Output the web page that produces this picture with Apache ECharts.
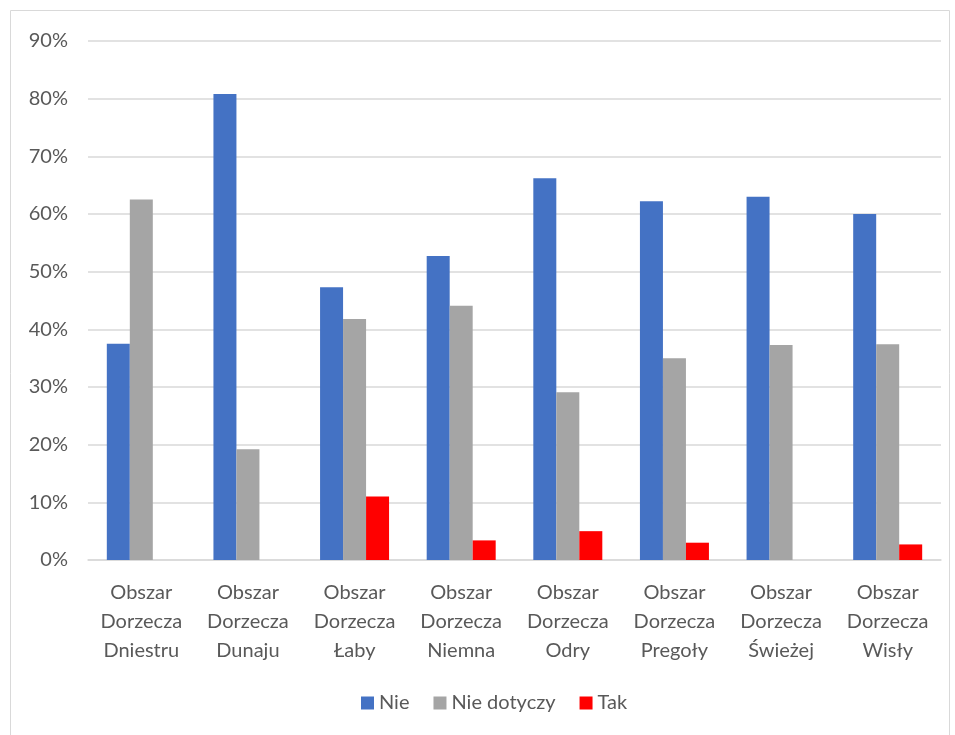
<!DOCTYPE html>
<html>
<head>
<meta charset="utf-8">
<script src="https://cdn.jsdelivr.net/npm/echarts@6/dist/echarts.min.js"></script>
<style>
  html, body { margin: 0; padding: 0; background: #fff; }
  #chart { width: 955px; height: 735px; }
</style>
</head>
<body>
<div id="chart"></div>
<script>
var categories = [
  "Obszar\nDorzecza\nDniestru",
  "Obszar\nDorzecza\nDunaju",
  "Obszar\nDorzecza\nŁaby",
  "Obszar\nDorzecza\nNiemna",
  "Obszar\nDorzecza\nOdry",
  "Obszar\nDorzecza\nPregoły",
  "Obszar\nDorzecza\nŚwieżej",
  "Obszar\nDorzecza\nWisły"
];
var nie = [37.5, 80.8, 47.3, 52.7, 66.2, 62.2, 63.0, 60.0];
var nieDotyczy = [62.5, 19.2, 41.8, 44.1, 29.1, 35.0, 37.3, 37.4];
var tak = [0, 0, 11.0, 3.4, 5.0, 3.0, 0, 2.7];

var font = "Lato, 'Open Sans', sans-serif";
var chart = echarts.init(document.getElementById("chart"));

chart.setOption({
  animation: false,
  textStyle: { fontFamily: font },
  graphic: [{
    type: "rect",
    shape: { x: 10.5, y: 10.5, width: 939, height: 740 },
    style: { fill: "none", stroke: "#d9d9d9", lineWidth: 1 }
  }],
  grid: { left: 88, right: 14, top: 41, bottom: 175 },
  legend: {
    top: 688,
    left: 356,
    itemWidth: 13,
    itemHeight: 13,
    itemGap: 24,
    icon: "rect",
    textStyle: { fontSize: 20, color: "#595959", fontFamily: font },
    data: ["Nie", "Nie dotyczy", "Tak"]
  },
  xAxis: {
    type: "category",
    data: categories,
    axisLine: { lineStyle: { color: "#d9d9d9", width: 1.5 } },
    axisTick: { show: false },
    axisLabel: {
      fontSize: 20,
      color: "#595959",
      lineHeight: 29,
      margin: 18,
      interval: 0,
      fontFamily: font
    }
  },
  yAxis: {
    type: "value",
    min: 0,
    max: 90,
    interval: 10,
    axisLine: { show: false },
    axisTick: { show: false },
    splitLine: { lineStyle: { color: "#d9d9d9", width: 1.5 } },
    axisLabel: {
      formatter: "{value}%",
      fontSize: 20,
      color: "#595959",
      margin: 20,
      fontFamily: font
    }
  },
  series: [
    { name: "Nie", type: "bar", data: nie, barWidth: 23, barGap: "0%",
      itemStyle: { color: "#4472c4" } },
    { name: "Nie dotyczy", type: "bar", data: nieDotyczy, barWidth: 23, barGap: "0%",
      itemStyle: { color: "#a5a5a5" } },
    { name: "Tak", type: "bar", data: tak, barWidth: 23, barGap: "0%",
      itemStyle: { color: "#ff0000" } }
  ]
});
</script>
</body>
</html>
